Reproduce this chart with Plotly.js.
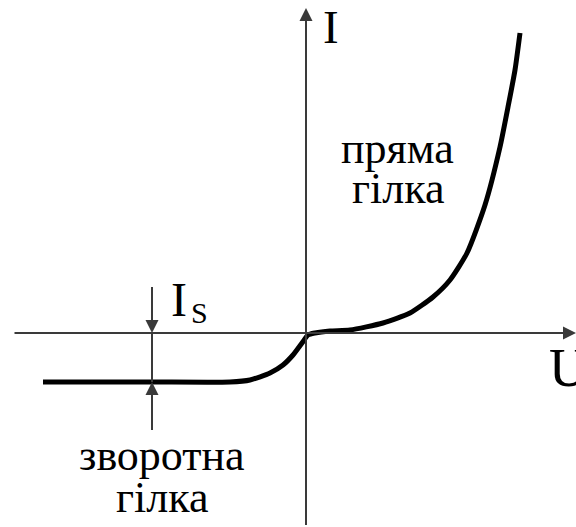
<!DOCTYPE html>
<html>
<head>
<meta charset="utf-8">
<script src="https://cdn.plot.ly/plotly-3.0.1.min.js"></script>
<style>html,body{margin:0;padding:0;background:#fff;}#chart{width:576px;height:527px;}</style>
</head>
<body>
<div id="chart"></div>
<script>
// Diode I-V characteristic (schematic units, origin at axis crossing)
const U = [-263, -156, -76, -56, -36, -23, -13, -4, 2, 9, 24, 44, 77, 104, 127, 144, 161, 179, 194, 202, 209, 214];
const I = [-49, -49, -49, -47, -40, -32, -22, -10, -2, 0, 2, 3, 10, 20, 36, 53, 80, 128, 186, 226, 263, 300];

const axisLabelU = "U";
const axisLabelI = "I";
const saturationLabel = ["I", "S"];
const forwardLabel = ["пряма", "гілка"];
const reverseLabel = ["зворотна", "гілка"];

const ISmarkerU = -154;     // position of the I_S dimension marker
const ISlevel = -49;        // saturation current level

const FONT = "Times New Roman";
const axisColor = "#3a3a3a";

const trace = {
  x: U, y: I, type: "scatter", mode: "lines",
  line: {color: "#000", width: 5, shape: "spline", smoothing: 0.6},
  hoverinfo: "skip"
};

function label(x, y, text, size, xanchor) {
  return {x: x, y: y, xref: "x", yref: "y", text: text, showarrow: false,
          xanchor: xanchor, yanchor: "middle", font: {family: FONT, size: size, color: "#000"}};
}
function arrow(x, y, ax, ay) {
  return {x: x, y: y, ax: ax, ay: ay, xref: "x", yref: "y", axref: "x", ayref: "y",
          showarrow: true, arrowhead: 2, arrowsize: 1.3, arrowwidth: 2, arrowcolor: axisColor,
          text: " ", standoff: 0, font: {family: FONT, size: 1}};
}

const annotations = [
  arrow(270, 0, -293, 0),
  arrow(0, 325, 0, -194),
  arrow(ISmarkerU, 0, ISmarkerU, 48),
  arrow(ISmarkerU, ISlevel, ISmarkerU, -99),
  label(15, 306, axisLabelI, 47, "left"),
  label(241, -35, axisLabelU, 54, "left"),
  label(-137, 34, saturationLabel[0], 48, "left"),
  label(-117, 21, saturationLabel[1], 30, "left"),
  label(91.5, 185, forwardLabel[0], 44, "center"),
  label(91.5, 145, forwardLabel[1], 44, "center"),
  label(-144.5, -122, reverseLabel[0], 44, "center"),
  label(-144, -164, reverseLabel[1], 44, "center")
];

const shapes = [
  {type: "line", xref: "x", yref: "y", x0: ISmarkerU, x1: ISmarkerU, y0: 0, y1: ISlevel,
   line: {color: axisColor, width: 2}}
];

const layout = {
  width: 576, height: 527,
  margin: {l: 0, r: 0, t: 0, b: 0},
  paper_bgcolor: "#fff", plot_bgcolor: "#fff",
  showlegend: false,
  font: {family: FONT},
  xaxis: {range: [-306, 270], visible: false, fixedrange: true},
  yaxis: {range: [-194, 333], visible: false, fixedrange: true},
  annotations: annotations,
  shapes: shapes
};

Plotly.newPlot("chart", [trace], layout, {displayModeBar: false, staticPlot: true});
</script>
</body>
</html>
